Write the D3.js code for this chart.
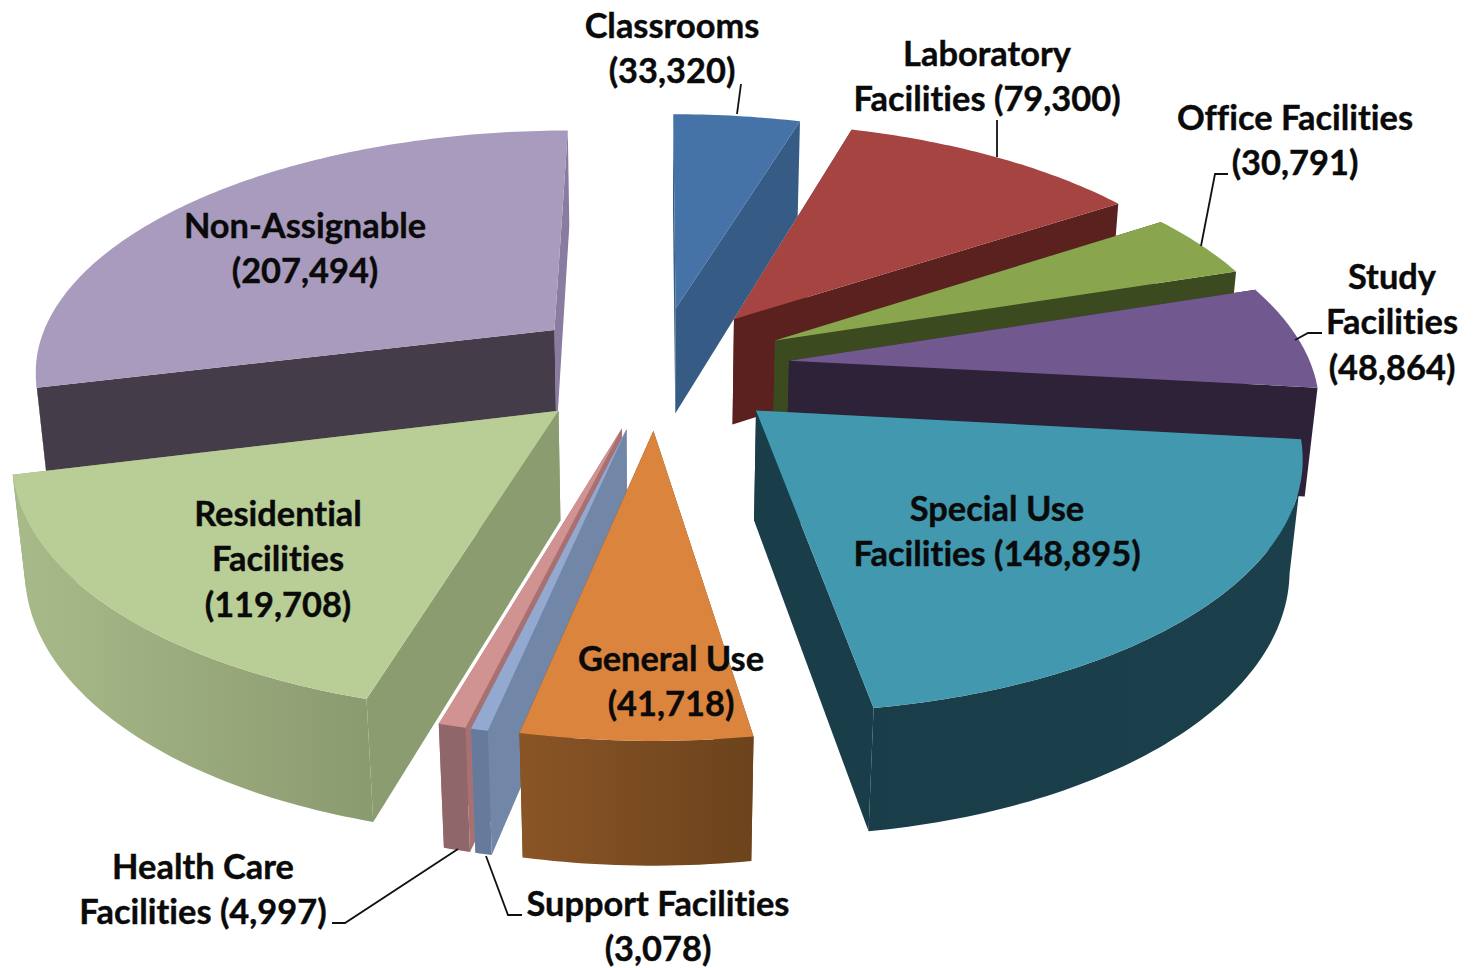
<!DOCTYPE html>
<html><head><meta charset="utf-8">
<style>html,body{margin:0;padding:0;background:#fff;overflow:hidden}svg{display:block}text{font-variant-ligatures:none}</style>
<script src="https://cdn.jsdelivr.net/npm/d3@7"></script></head>
<body><svg id="c" width="1481" height="968"></svg>
<script>
// ---- data ----
const categories = ["Classrooms","Laboratory Facilities","Office Facilities","Study Facilities","Special Use Facilities","General Use","Support Facilities","Health Care Facilities","Residential Facilities","Non-Assignable"];
const values = [33320,79300,30791,48864,148895,41718,3078,4997,119708,207494];
// ---- styles ----
const topColors  = ["#4572a7","#a64441","#89a54e","#71588f","#4198af","#db843d","#93a9cf","#d19392","#b9cd96","#a99bbd"];
const startWall  = ["#365c85","#5a211f","#3c4a1f","#2e2239","#1a3d4a","#6c431c","#7286a8","#a87071","#8b9c70","#453c49"];
const endWall    = ["#365c85","#5a211f","#3c4a1f","#2e2239","#1a3d4a","#6c431c","#7286a8","#a87071","#8b9c70","#8a7ba0"];
const rimLeft    = ["#365c85","#5a211f","#3c4a1f","#2e2239","#1a3d4a","#8a5526","#667a9c","#8f6669","#a9ba8a","#453c49"];
const rimRight   = ["#365c85","#5a211f","#3c4a1f","#2e2239","#1b3f4b","#6c431c","#667a9c","#8f6669","#8b9b70","#453c49"];
const paintOrder = [9,0,1,2,3,4,8,7,6,5];
// ---- labels ----
const labelLines = [["Classrooms","(33,320)"],["Laboratory","Facilities (79,300)"],["Office Facilities","(30,791)"],["Study","Facilities","(48,864)"],["Special Use","Facilities (148,895)"],["General Use","(41,718)"],["Support Facilities","(3,078)"],["Health Care","Facilities (4,997)"],["Residential","Facilities","(119,708)"],["Non-Assignable","(207,494)"]];
const labelX = [672,987,1295,1392,997,671,658,203,278,305];
const labelY = [38,66,130,289,521,671,916,879,526,238];
const leaders = [
 [[741,84],[737,114]],
 [[997,120],[997,157]],
 [[1228,174],[1215,174],[1201,246]],
 [[1322,333],[1308,333],[1295,340]],
 [[332,923],[345,923],[458,849]],
 [[522,915],[508,915],[486,856]]];
// ---- camera: plane with horizon at y=horizonY, verticals converge at (vpX, nadirY) ----
const vpX=657, horizonY=-1200, nadirY=6000;
const uScale=0.3335, vCentre=6.382e-4, vScale=0.980e-4, thickness=0.088, explode=0.255;
const cameraY=-vCentre/vScale;

function project(X,Y,z){
  const d=1/(vCentre+vScale*Y);
  const x=vpX+uScale*X*d, y=horizonY+d;
  if(!z) return [x,y];
  const h=thickness*d*(nadirY-y)/(nadirY-horizonY);
  return [x+(vpX-x)*h/(nadirY-y), y+h];
}
const arcs=d3.pie().sort(null)(values);
const svg=d3.select("#c"), defs=svg.append("defs");
const line=d3.line();
const close=pts=>line(pts)+"Z";

paintOrder.forEach(i=>{
  const a=arcs[i], mid=(a.startAngle+a.endAngle)/2;
  const ox=explode*Math.sin(mid), oy=explode*Math.cos(mid);
  const at=(t,z)=>project(ox+Math.sin(t),oy+Math.cos(t),z);
  const apex=z=>project(ox,oy,z);
  const n=Math.max(4,Math.ceil((a.endAngle-a.startAngle)*60));
  const ts=d3.range(n+1).map(k=>a.startAngle+(a.endAngle-a.startAngle)*k/n);
  const g=svg.append("g").attr("class","slice").datum(categories[i]);
  const wall=(t,col)=>g.append("path").attr("d",close([apex(0),at(t,0),at(t,1),apex(1)])).attr("fill",col);
  wall(a.endAngle,endWall[i]);
  wall(a.startAngle,startWall[i]);
  // only the part of the outer wall that faces the camera
  const front=ts.filter(t=>(-ox-Math.sin(t))*Math.sin(t)+(cameraY-oy-Math.cos(t))*Math.cos(t)>0);
  if(front.length>1){
    const xs=front.map(t=>at(t,0)[0]);
    const gid="rim"+i;
    const gr=defs.append("linearGradient").attr("id",gid).attr("gradientUnits","userSpaceOnUse")
      .attr("x1",d3.min(xs)).attr("x2",d3.max(xs)).attr("y1",0).attr("y2",0);
    gr.append("stop").attr("offset",0).attr("stop-color",rimLeft[i]);
    gr.append("stop").attr("offset",1).attr("stop-color",rimRight[i]);
    g.append("path").attr("d",close(front.map(t=>at(t,0)).concat(front.slice().reverse().map(t=>at(t,1))))).attr("fill",`url(#${gid})`);
  }
  g.append("path").attr("d",close([apex(0)].concat(ts.map(t=>at(t,0))))).attr("fill",topColors[i]);
});

svg.append("g").selectAll("path").data(leaders).join("path")
  .attr("d",d=>line(d)).attr("fill","none").attr("stroke","#111").attr("stroke-width",1.8);

const lab=svg.append("g").attr("font-family","Lato, 'Open Sans', sans-serif").attr("font-weight",700)
  .attr("font-size",34.4).attr("fill","#0a0a0a").attr("stroke","#0a0a0a").attr("stroke-width",0.4).attr("text-anchor","middle");
labelLines.forEach((ls,i)=>{
  ls.forEach((s,j)=>lab.append("text").attr("x",labelX[i]).attr("y",labelY[i]+j*45.4).text(s));
});
</script></body></html>
